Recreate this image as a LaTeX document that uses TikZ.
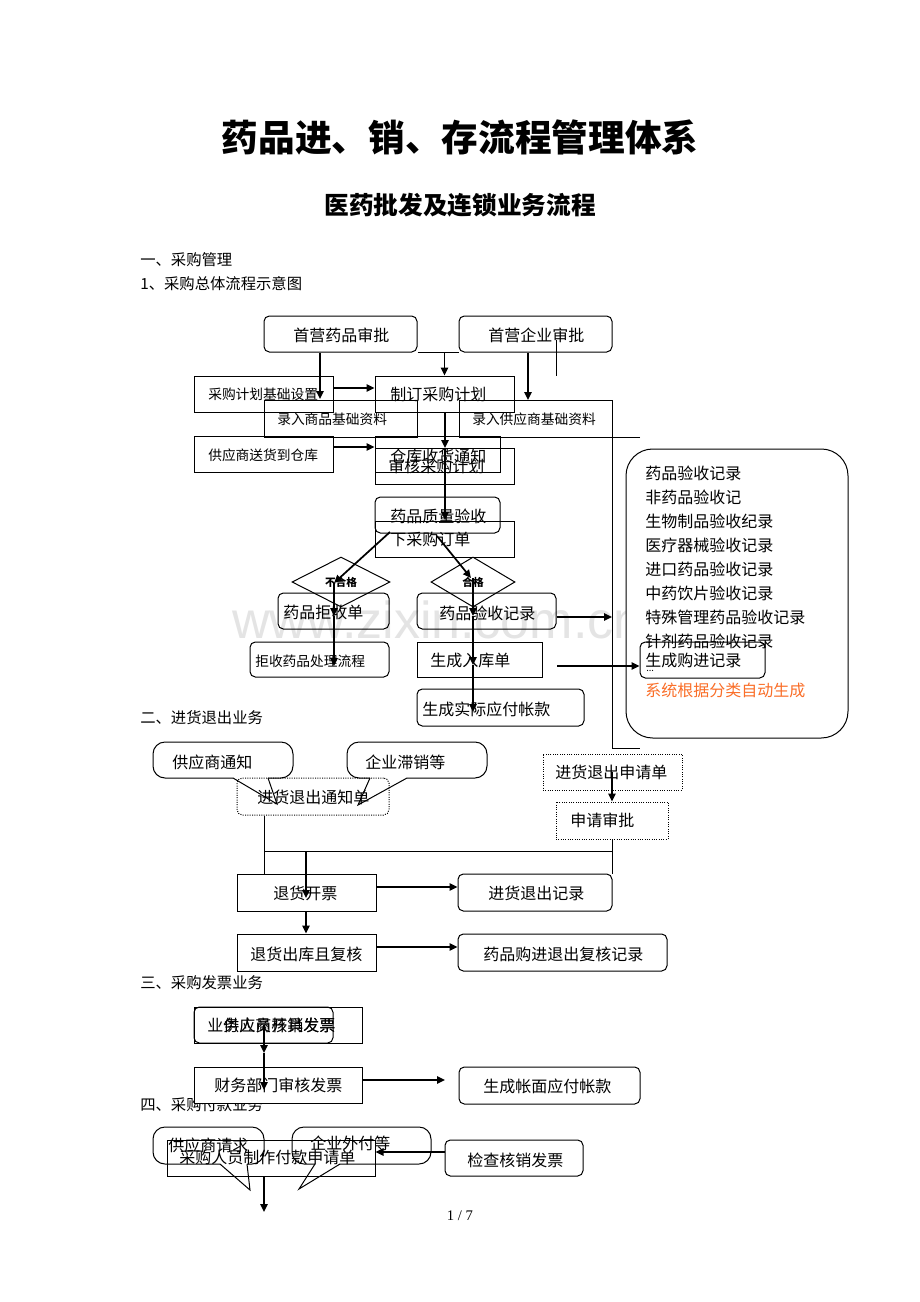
\documentclass[tikz,border=0pt]{standalone}
\usepackage{fontspec}
\setmainfont{Noto Sans CJK SC}
\newfontfamily\seriffont{Liberation Serif}
\newfontfamily\wmfont{Liberation Sans}
\usetikzlibrary{arrows.meta,fit,shapes.geometric}
\definecolor{orangetxt}{RGB}{250,110,40}
\definecolor{wmgray}{RGB}{228,228,228}
\newcommand\B[6]{\node[#1, fit={(#3,#4)(#5,#6)}] (#2) {};}
\tikzset{
  bx/.style={draw, inner sep=0pt, line width=0.75pt},
  rbx/.style={bx, rounded corners=4pt},
  dbx/.style={bx, densely dotted},
  txt/.style={anchor=west, inner sep=0pt, font=\fontsize{12}{12}\selectfont},
  stxt/.style={anchor=west, inner sep=0pt, font=\fontsize{10.3}{10.3}\selectfont},
  head/.style={anchor=west, inner sep=0pt, font=\fontsize{11.5}{11.5}\selectfont},
  arr/.style={line width=1.3pt, -{Triangle[length=6pt,width=5.5pt]}},
  ln/.style={line width=0.75pt},
  callout/.style={ln, rounded corners=9pt},
  dia/.style={draw, ln, diamond, aspect=2, minimum height=37.5pt, inner sep=0pt, font=\bfseries\fontsize{8}{8}\selectfont},
}
\begin{document}
\begin{tikzpicture}[x=0.75pt,y=-0.75pt]
\useasboundingbox[fill=white] (0,0) rectangle (920,1302);

% watermark
\node[anchor=base west, inner sep=0pt, text=wmgray, font=\wmfont\fontsize{39}{39}\selectfont] (wm) at (232,638) {www.zixin.com.cn};

% titles
\node[inner sep=0pt, font=\fontsize{27.5}{27.5}\selectfont\bfseries] (title) at (460,137) {药品进、销、存流程管理体系};
\node[inner sep=0pt, font=\fontsize{18.5}{18.5}\selectfont\bfseries] (subtitle) at (460,205) {医药批发及连锁业务流程};
\node[head] (h1) at (140,260) {一、采购管理};
\node[head] (h11) at (140,284) {1、采购总体流程示意图};
\node[head] (h2) at (140,718) {二、进货退出业务};
\node[head] (h3) at (140,983) {三、采购发票业务};
\node[head] (h4) at (140,1105) {四、采购付款业务};

% ---------- section 1 ----------
\B{rbx}{sp}{264}{316}{417}{352}
\B{rbx}{sq}{459}{316}{612}{352}
\B{bx}{jcsz}{194}{376}{333}{412}
\B{bx}{zdjh}{375}{376}{514}{412}
\B{bx}{lrsp}{264}{400}{417}{437}
\B{bx}{lrgys}{459}{400}{612}{437}
\B{bx}{shdck}{194}{436}{333}{472}
\B{bx}{cksh}{375}{436}{500}{472}
\B{bx}{shjh}{375}{448}{514}{484}
\B{rbx}{zlys}{375}{497}{500}{533}
\B{bx}{xdd}{375}{521}{514}{557}
\node[dia, minimum width=73.5pt] (d1) at (341,582) {\raisebox{-2pt}{不合格}};
\node[dia, minimum width=63pt] (d2) at (473,582) {\raisebox{-2pt}{合格}};
\B{rbx}{jsd}{278}{593}{389}{629}
\B{rbx}{ysjl}{417}{593}{556}{629}
\B{rbx}{jscl}{250}{642}{389}{677}
\B{bx}{rkd}{417}{642}{542}{677}
\B{rbx}{yfzk}{417}{689}{584}{726}

\node[txt] (t-sp) at (293,335) {首营药品审批};
\node[txt] (t-sq) at (488,335) {首营企业审批};
\node[stxt] (t-jcsz) at (208,394) {采购计划基础设置};
\node[txt] (t-zdjh) at (390,394) {制订采购计划};
\node[stxt] (t-lrsp) at (277,419) {录入商品基础资料};
\node[stxt] (t-lrgys) at (472,419) {录入供应商基础资料};
\node[stxt] (t-shdck) at (208,455) {供应商送货到仓库};
\node[txt] (t-cksh) at (390,456) {仓库收货通知};
\node[txt] (t-shjh) at (388,466) {审核采购计划};
\node[txt] (t-zlys) at (390,516) {药品质量验收};
\node[txt] (t-xdd) at (390,539) {下采购订单};
\node[txt] (t-jsd) at (283,612) {药品拒收单};
\node[txt] (t-ysjl) at (439,613) {药品验收记录};
\node[stxt] (t-jscl) at (255,661) {拒收药品处理流程};
\node[txt] (t-rkd) at (430,660) {生成入库单};
\node[txt] (t-yfzk) at (422,709) {生成实际应付帐款};

% bracket and big box
\draw[ln] (640,437) -- (612,437) -- (612,748) -- (640,748);
\node[draw, ln, fill=white, inner sep=0pt, rounded corners=20pt, fit={(626,449)(848,738)}] (big) {};
\node[txt] (b1) at (645,473) {药品验收记录};
\node[txt] (b2) at (645,497) {非药品验收记};
\node[txt] (b3) at (645,521) {生物制品验收纪录};
\node[txt] (b4) at (645,545) {医疗器械验收记录};
\node[txt] (b5) at (645,569) {进口药品验收记录};
\node[txt] (b6) at (645,593) {中药饮片验收记录};
\node[txt] (b7) at (645,617) {特殊管理药品验收记录};
\node[txt] (b8) at (645,641) {针剂药品验收记录};
\B{rbx}{gjjl}{640}{642}{765}{678}
\node[txt] (t-gjjl) at (645,660) {生成购进记录};
\node[anchor=west, inner sep=0pt, font=\fontsize{7}{7}\selectfont] (dots) at (646,671) {...};
\node[txt, text=orangetxt] (b9) at (645,690) {系统根据分类自动生成};

% connectors section 1
\coordinate (p1) at (320,399);
\draw[arr] (sp.south -| p1) -- (p1);
\draw[arr] (sp.south -| zdjh.north) -- (zdjh.north);
\coordinate (p3) at (528,400);
\draw[arr] (sq.south -| p3) -- (p3);
\coordinate (p4) at (556,340);
\draw[ln] (p4) -- (p4 |- zdjh.north);
\draw[ln] (sp.south east) -- (sq.south west);
\coordinate (p6) at (0,388);
\draw[arr] (jcsz.east |- p6) -- (zdjh.west |- p6);
\coordinate (p7) at (0,447);
\draw[arr] (shdck.east |- p7) -- (cksh.west |- p7);
\coordinate (p8) at (445,448);
\draw[arr] (zdjh.south -| p8) -- (p8);
\coordinate (p9) at (445,520);
\draw[arr] (p8) -- (p9);
\coordinate (p10) at (390,532);
\coordinate (q1) at (334,583);
\draw[arr] (p10) -- (q1);
\coordinate (p11) at (437,536);
\coordinate (q2) at (471,578);
\draw[arr] (p11) -- (q2);
\coordinate (q1b) at (334,616);
\coordinate (q1c) at (334,666);
\draw[arr] (q1) -- (q1b);
\draw[arr] (q1b) -- (q1c);
\coordinate (q2a) at (473,578);
\coordinate (q2b) at (473,616);
\coordinate (q2c) at (473,665);
\coordinate (q2d) at (473,712);
\draw[arr] (q2a) -- (q2b);
\draw[arr] (q2b) -- (q2c);
\draw[arr] (q2c) -- (q2d);
\coordinate (p15) at (612,617);
\draw[arr] (ysjl.east |- p15) -- (p15);
\coordinate (p16) at (557,666);
\draw[arr] (p16) -- (gjjl.west |- p16);

% ---------- section 2 ----------
\draw[callout] (233,778) -- (153,778) -- (153,742) -- (293,742) -- (293,778) -- (268,778);
\draw[ln] (268,778) -- (277,804) -- (233,778);
\node[txt] (t-gtz) at (172,762) {供应商通知};
\draw[callout] (370,778) -- (347,778) -- (347,742) -- (487,742) -- (487,778) -- (407,778);
\draw[ln] (407,778) -- (358,805) -- (370,778);
\node[txt] (t-zx) at (365,762) {企业滞销等};

\B{dbx, rounded corners=4pt}{tzd}{237}{778}{389}{815}
\B{dbx}{sqd}{543}{754}{682}{790}
\B{dbx}{sqsp}{556}{802}{668}{839}
\B{bx}{thkp}{237}{874}{376}{911}
\B{bx}{thck}{237}{934}{376}{971}
\B{rbx}{thjl}{458}{874}{612}{911}
\B{rbx}{fhjl}{458}{934}{667}{971}
\node[txt] (t-tzd) at (257,797) {进货退出通知单};
\node[txt] (t-sqd) at (555,772) {进货退出申请单};
\node[txt] (t-sqsp) at (570,820) {申请审批};
\node[txt] (t-thkp) at (273,893) {退货开票};
\node[txt] (t-thjl) at (488,893) {进货退出记录};
\node[txt] (t-thck) at (250,954) {退货出库且复核};
\node[txt] (t-fhjl) at (483,954) {药品购进退出复核记录};

\coordinate (r1) at (264,851);
\coordinate (r2) at (612,851);
\coordinate (r3) at (306,851);
\coordinate (r4) at (306,898);
\draw[ln] (tzd.south -| r1) -- (thkp.north -| r1);
\draw[ln] (r1) -- (r2);
\draw[ln] (sqsp.south -| r2) -- (thjl.north -| r2);
\draw[arr] (r3) -- (r4);
\draw[arr] (thkp.south -| r3) -- (thck.north -| r3);
\coordinate (r5) at (0,887);
\draw[arr] (thkp.east |- r5) -- (thjl.west |- r5);
\coordinate (r6) at (0,947);
\draw[arr] (thck.east |- r6) -- (fhjl.west |- r6);
\coordinate (r7) at (612,772);
\draw[arr] (r7) -- (sqsp.north -| r7);

% ---------- section 3 ----------
\B{rbx}{gyskp}{194}{1007}{333}{1043}
\B{bx}{hxfp}{194}{1007}{362}{1043}
\node[txt] (t-hxfp) at (207,1025) {业务人员核销发票};
\node[txt] (t-gyskp) at (223,1025) {供应商开具发票};
\B{bx, fill=white}{cwsh}{194}{1067}{362}{1103}
\B{rbx}{zmyf}{459}{1067}{640}{1104}
\node[txt] (t-cwsh) at (214,1085) {财务部门审核发票};
\node[txt] (t-zmyf) at (483,1086) {生成帐面应付帐款};
\coordinate (s1) at (264,1025);
\coordinate (s2) at (264,1053);
\coordinate (s3) at (264,1090);
\draw[arr] (s1) -- (s2);
\draw[arr] (s2) -- (s3);
\coordinate (s4) at (445,1080);
\draw[arr] (cwsh.east |- s4) -- (s4);

% ---------- section 4 ----------
\draw[callout] (220,1164) -- (153,1164) -- (153,1127) -- (264,1127) -- (264,1164) -- (247,1164);
\draw[ln] (247,1164) -- (250,1190) -- (220,1164);
\draw[callout] (315,1164) -- (292,1164) -- (292,1127) -- (431,1127) -- (431,1164) -- (340,1164);
\draw[ln] (340,1164) -- (299,1189) -- (315,1164);
\B{bx}{fksq}{167}{1140}{375}{1176}
\B{rbx}{jchx}{445}{1140}{583}{1176}
\node[txt] (t-gysqq) at (168,1145) {供应商请求};
\node[txt] (t-wfd) at (310,1143) {企业外付等};
\node[txt] (t-fksq) at (179,1157) {采购人员制作付款申请单};
\node[txt] (t-jchx) at (467,1160) {检查核销发票};
\coordinate (t1) at (264,1212);
\draw[arr] (fksq.south -| t1) -- (t1);
\coordinate (t2) at (0,1152);
\draw[arr] (jchx.west |- t2) -- (fksq.east |- t2);

\node[inner sep=0pt, font=\seriffont\fontsize{11}{11}\selectfont] (pg) at (460,1216) {1 / 7};
\end{tikzpicture}
\end{document}
